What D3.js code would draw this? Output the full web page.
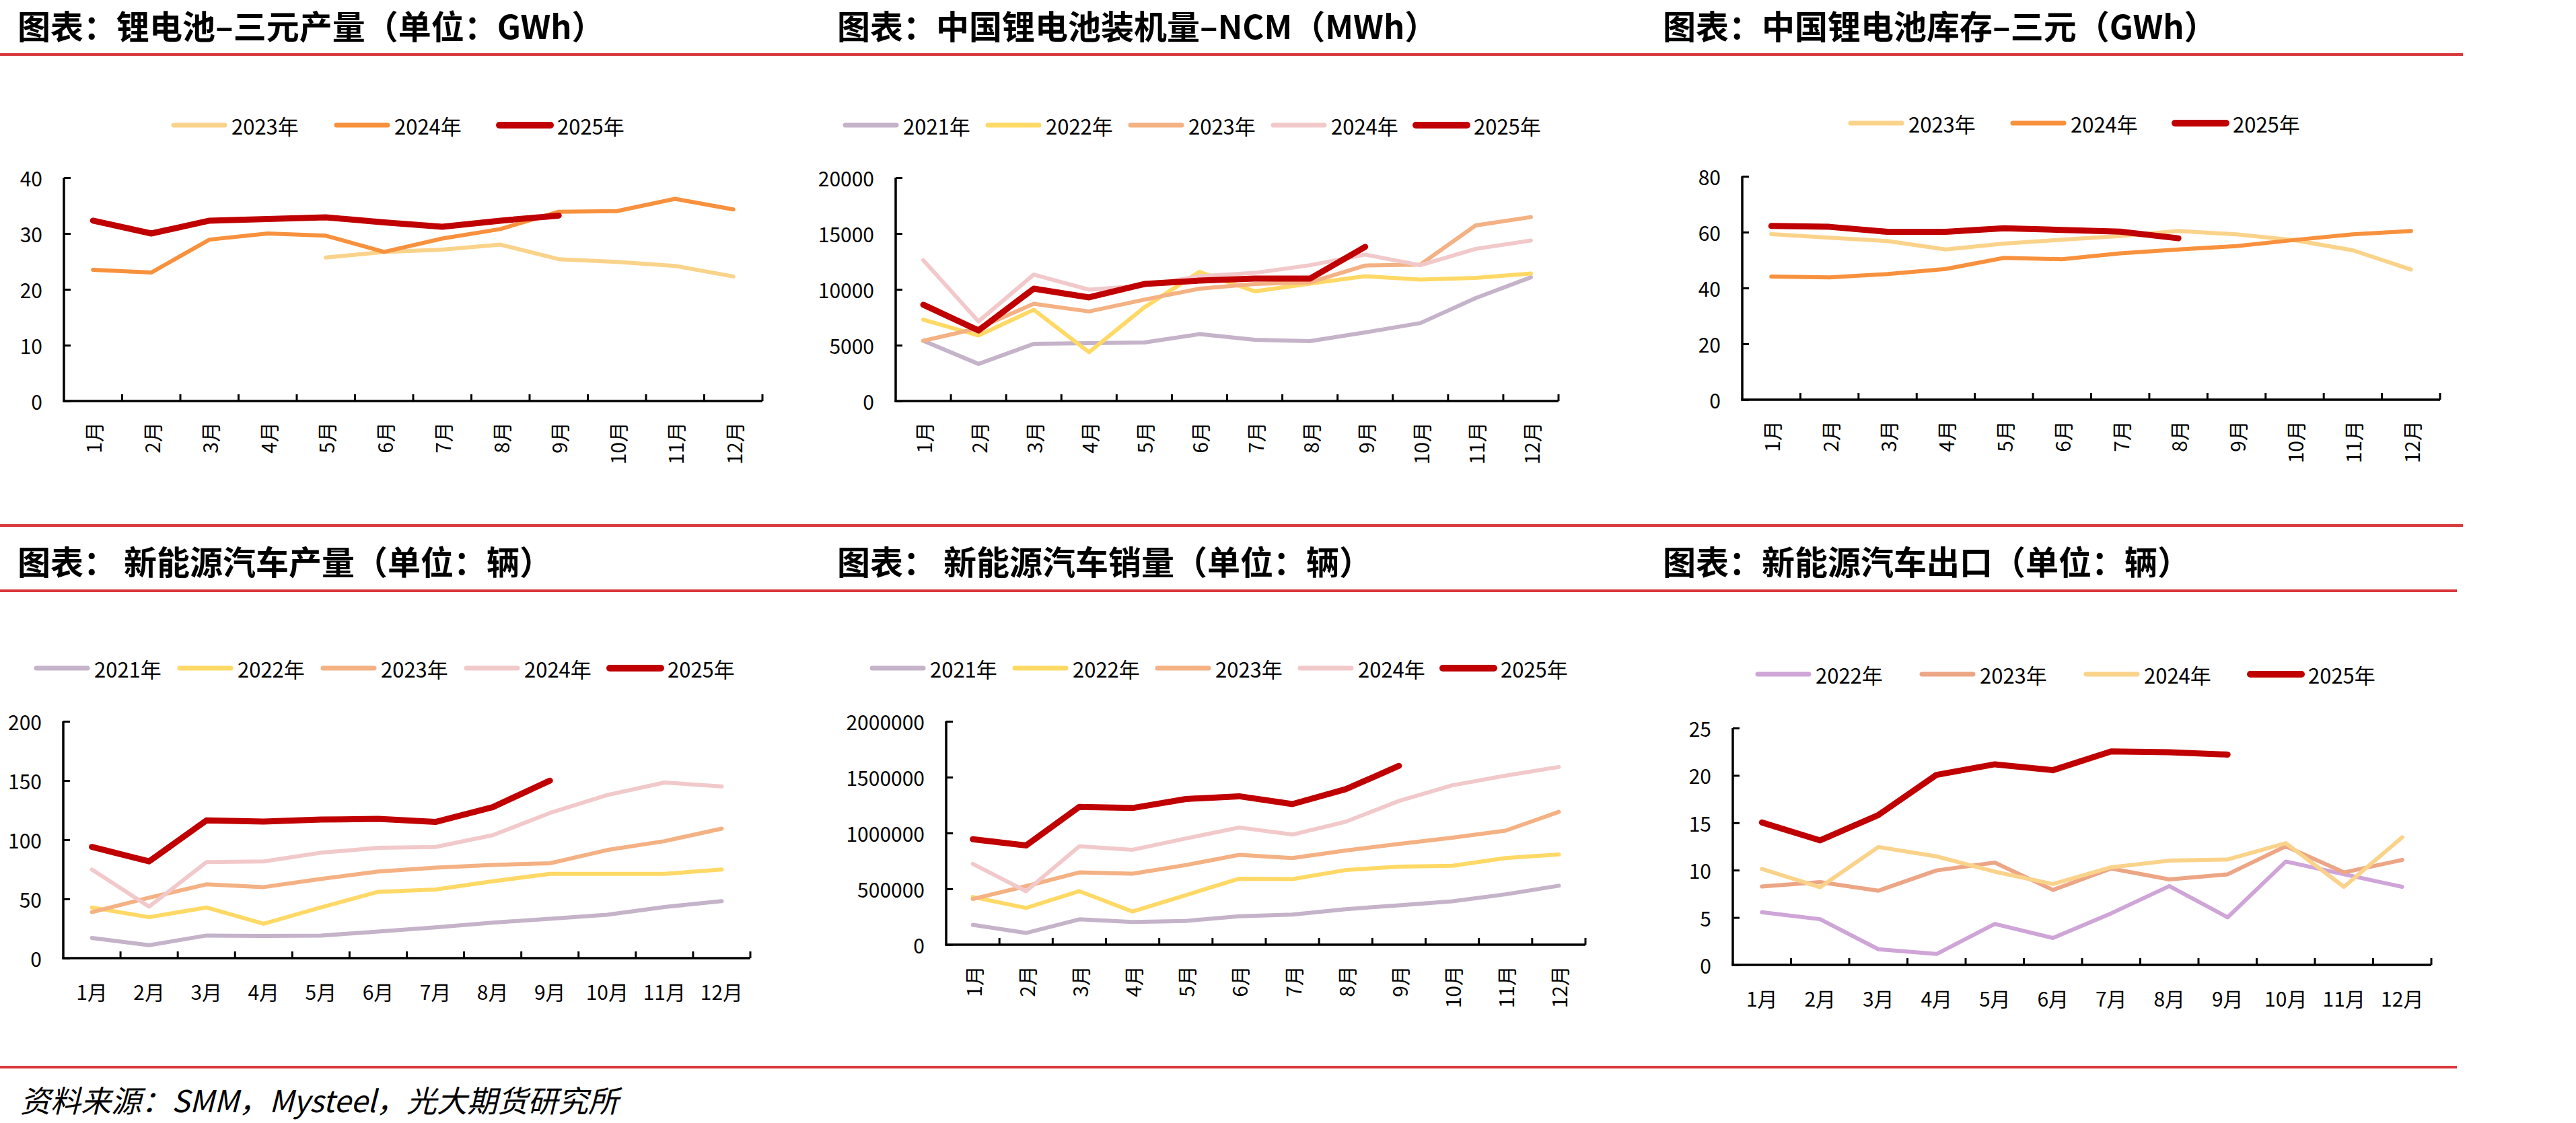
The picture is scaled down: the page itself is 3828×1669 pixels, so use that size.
<!DOCTYPE html>
<html>
<head>
<meta charset="utf-8">
<script src="https://cdn.jsdelivr.net/npm/d3@7"></script>
<style>
  html, body { margin: 0; padding: 0; background: #fff; }
  svg { display: block; font-family: "Noto Sans CJK SC", "Noto Sans", sans-serif; }
</style>
</head>
<body>
<div id="chart"></div>
<script>
// ---- data ----
const months = ['1月', '2月', '3月', '4月', '5月', '6月', '7月', '8月', '9月', '10月', '11月', '12月'];

// 锂电池-三元产量 (GWh)
const ternaryProdYears = ['2023年', '2024年', '2025年'];
const ternaryProd2023 = [null, null, null, null, 25.7, 26.7, 27.1, 28.0, 25.4, 24.9, 24.2, 22.3];
const ternaryProd2024 = [23.5, 23.0, 28.9, 30.0, 29.6, 26.7, 29.1, 30.8, 33.9, 34.0, 36.2, 34.3];
const ternaryProd2025 = [32.3, 30.0, 32.3, 32.6, 32.9, 32.0, 31.2, 32.3, 33.2];
const ternaryProdTicks = [0, 10, 20, 30, 40];

// 中国锂电池装机量-NCM (MWh)
const ncmYears = ['2021年', '2022年', '2023年', '2024年', '2025年'];
const ncm2021 = [5400, 3320, 5120, 5180, 5240, 5990, 5480, 5360, 6140, 6980, 9220, 11080];
const ncm2022 = [7280, 5870, 8170, 4370, 8380, 11560, 9820, 10510, 11170, 10870, 11020, 11410];
const ncm2023 = [5390, 6530, 8710, 8020, 9070, 10060, 10480, 10630, 12130, 12220, 15720, 16470];
const ncm2024 = [12610, 7130, 11320, 9970, 10330, 11170, 11470, 12160, 13110, 12160, 13620, 14370];
const ncm2025 = [8620, 6320, 10060, 9280, 10480, 10780, 10960, 10960, 13800];
const ncmTicks = [0, 5000, 10000, 15000, 20000];

// 中国锂电池库存-三元 (GWh)
const stockYears = ['2023年', '2024年', '2025年'];
const stock2023 = [59.3, 58.0, 56.8, 53.8, 55.9, 57.3, 58.6, 60.4, 59.2, 57.1, 53.5, 46.6];
const stock2024 = [44.1, 43.8, 45.0, 46.8, 50.8, 50.3, 52.4, 53.8, 55.0, 57.2, 59.2, 60.4];
const stock2025 = [62.2, 61.9, 60.1, 60.1, 61.4, 60.8, 60.2, 57.8];
const stockTicks = [0, 20, 40, 60, 80];

// 新能源汽车产量
const nevProdYears = ['2021年', '2022年', '2023年', '2024年', '2025年'];
const nevProd2021 = [17.1, 10.9, 19.1, 18.8, 19.1, 22.4, 26.0, 30.0, 33.3, 36.6, 43.2, 48.1];
const nevProd2022 = [42.8, 34.6, 42.8, 29.0, 42.8, 56.0, 58.0, 64.9, 71.2, 71.2, 71.2, 74.8];
const nevProd2023 = [38.9, 51.1, 62.3, 60.0, 66.9, 73.1, 76.4, 78.7, 80.1, 91.3, 98.8, 109.4];
const nevProd2024 = [74.8, 43.5, 81.1, 81.7, 89.0, 93.2, 93.9, 103.8, 122.6, 137.7, 148.3, 145.0];
const nevProd2025 = [93.9, 81.7, 116.3, 115.3, 117.0, 117.6, 115.0, 127.5, 149.9];
const nevProdTicks = [0, 50, 100, 150, 200];

// 新能源汽车销量
const nevSalesYears = ['2021年', '2022年', '2023年', '2024年', '2025年'];
const nevSales2021 = [178000, 105000, 227000, 203000, 213000, 255000, 269000, 318000, 353000, 388000, 451000, 528000];
const nevSales2022 = [427000, 329000, 479000, 297000, 444000, 591000, 587000, 668000, 699000, 706000, 776000, 808000];
const nevSales2023 = [409000, 524000, 647000, 636000, 713000, 804000, 776000, 843000, 902000, 958000, 1021000, 1189000];
const nevSales2024 = [724000, 479000, 881000, 850000, 951000, 1049000, 986000, 1101000, 1287000, 1427000, 1514000, 1591000];
const nevSales2025 = [944000, 888000, 1234000, 1224000, 1304000, 1329000, 1259000, 1392000, 1601000];
const nevSalesTicks = [0, 500000, 1000000, 1500000, 2000000];

// 新能源汽车出口
const nevExportYears = ['2022年', '2023年', '2024年', '2025年'];
const nevExport2022 = [5.56, 4.82, 1.65, 1.15, 4.32, 2.84, 5.44, 8.32, 5.02, 10.91, 9.56, 8.24];
const nevExport2023 = [8.28, 8.73, 7.83, 9.97, 10.79, 7.91, 10.17, 9.02, 9.56, 12.52, 9.76, 11.08];
const nevExport2024 = [10.13, 8.20, 12.44, 11.45, 9.84, 8.53, 10.30, 11.0, 11.12, 12.85, 8.24, 13.47];
const nevExport2025 = [15.03, 13.14, 15.82, 20.06, 21.17, 20.55, 22.53, 22.45, 22.2];
const nevExportTicks = [0, 5, 10, 15, 20, 25];

// ---- colours ----
const cLavender = '#c5b3c9';
const cYellow = '#ffd966';
const cSalmon = '#f4b183';
const cPink = '#f2c9ca';
const cRed = '#c00000';
const cLightOrange = '#fad38b';
const cOrange = '#f8913d';
const cLilac = '#cfa5d8';
const cPeach = '#eca686';
const cRule = '#d9383c';

const W = 3828, H = 1669;
const svg = d3.select('#chart').append('svg')
    .attr('width', W)
    .attr('height', H);

// red separator rules
const rules = [
    { y: 81, x2: 3660 },
    { y: 781, x2: 3660 },
    { y: 878, x2: 3651 },
    { y: 1586, x2: 3651 }
];
svg.selectAll('.rule')
    .data(rules)
    .enter()
    .append('line')
    .attr('x1', 0)
    .attr('x2', d => d.x2)
    .attr('y1', d => d.y)
    .attr('y2', d => d.y)
    .attr('stroke', cRule)
    .attr('stroke-width', 4);

function drawPanel(cfg) {
    const g = svg.append('g');

    // title
    g.append('text')
        .attr('x', cfg.titleX)
        .attr('y', cfg.titleY)
        .attr('dominant-baseline', 'central')
        .attr('font-size', 49)
        .attr('font-weight', 700)
        .attr('fill', '#000')
        .text(cfg.title);

    const x = d3.scaleBand()
        .domain(months)
        .range([cfg.left, cfg.right]);
    const y = d3.scaleLinear()
        .domain([0, d3.max(cfg.ticks)])
        .range([cfg.bottom, cfg.top]);

    // y axis (ticks point inward)
    const yAxis = g.append('g')
        .attr('transform', `translate(${cfg.left},0)`)
        .call(d3.axisRight(y).tickValues(cfg.ticks).tickSize(10).tickFormat(''));
    yAxis.select('.domain').remove();
    yAxis.selectAll('.tick line').attr('stroke', '#000').attr('stroke-width', 3);

    g.selectAll('.ylab')
        .data(cfg.ticks)
        .enter()
        .append('text')
        .attr('x', cfg.left - 32)
        .attr('y', d => y(d))
        .attr('text-anchor', 'end')
        .attr('dominant-baseline', 'central')
        .attr('font-size', 30)
        .attr('fill', '#000')
        .text(d => d);

    // x axis ticks at band edges, pointing up
    const edges = months.map(m => x(m) + x.bandwidth());
    g.selectAll('.xtick')
        .data(edges)
        .enter()
        .append('line')
        .attr('x1', d => d)
        .attr('x2', d => d)
        .attr('y1', cfg.bottom)
        .attr('y2', cfg.bottom - 10)
        .attr('stroke', '#000')
        .attr('stroke-width', 3);

    // axis lines
    g.append('line')
        .attr('x1', cfg.left).attr('x2', cfg.left)
        .attr('y1', cfg.top).attr('y2', cfg.bottom + 1.5)
        .attr('stroke', '#000').attr('stroke-width', 3.5);
    g.append('line')
        .attr('x1', cfg.left - 1.5).attr('x2', cfg.right)
        .attr('y1', cfg.bottom).attr('y2', cfg.bottom)
        .attr('stroke', '#000').attr('stroke-width', 3.5);

    // month labels
    const cx = m => x(m) + x.bandwidth() / 2;
    if (cfg.rotate) {
        g.selectAll('.xlab')
            .data(months)
            .enter()
            .append('text')
            .attr('transform', m => `translate(${cx(m)},${cfg.bottom + 31}) rotate(-90)`)
            .attr('text-anchor', 'end')
            .attr('dominant-baseline', 'central')
            .attr('font-size', 30)
            .attr('fill', '#000')
            .text(m => m);
    } else {
        g.selectAll('.xlab')
            .data(months)
            .enter()
            .append('text')
            .attr('x', m => cx(m))
            .attr('y', cfg.bottom + 49)
            .attr('text-anchor', 'middle')
            .attr('dominant-baseline', 'central')
            .attr('font-size', 30)
            .attr('fill', '#000')
            .text(m => m);
    }

    // lines
    const line = d3.line()
        .defined(d => d.v != null)
        .x(d => cx(d.m))
        .y(d => y(d.v));

    cfg.series.forEach(s => {
        const pts = s.values.map((v, i) => ({ m: months[i], v: v }));
        g.append('path')
            .attr('d', line(pts))
            .attr('fill', 'none')
            .attr('stroke', s.color)
            .attr('stroke-width', s.width)
            .attr('stroke-linejoin', 'round')
            .attr('stroke-linecap', 'round');
    });

    // legend
    const leg = g.selectAll('.legend')
        .data(cfg.series)
        .enter()
        .append('g')
        .attr('transform', (d, i) => `translate(${cfg.legendX + i * cfg.legendStep},${cfg.legendY})`);
    leg.append('line')
        .attr('x1', 4).attr('x2', 80)
        .attr('y1', 0).attr('y2', 0)
        .attr('stroke', d => d.color)
        .attr('stroke-width', d => d.width + 1)
        .attr('stroke-linecap', 'round');
    leg.append('text')
        .attr('x', 90)
        .attr('y', 0)
        .attr('dominant-baseline', 'central')
        .attr('font-size', 31)
        .attr('fill', '#000')
        .text(d => d.name);
}

const thin = 6, thick = 9;

drawPanel({
    title: '图表：锂电池–三元产量（单位：GWh）',
    titleX: 26, titleY: 36,
    left: 95, right: 1133, top: 264, bottom: 596,
    ticks: ternaryProdTicks, rotate: true,
    legendX: 254, legendStep: 242, legendY: 186,
    series: [
        { name: ternaryProdYears[0], values: ternaryProd2023, color: cLightOrange, width: thin },
        { name: ternaryProdYears[1], values: ternaryProd2024, color: cOrange, width: thin },
        { name: ternaryProdYears[2], values: ternaryProd2025, color: cRed, width: thick }
    ]
});

drawPanel({
    title: '图表：中国锂电池装机量–NCM（MWh）',
    titleX: 1244, titleY: 36,
    left: 1331, right: 2316, top: 264, bottom: 596,
    ticks: ncmTicks, rotate: true,
    legendX: 1252, legendStep: 212, legendY: 186,
    series: [
        { name: ncmYears[0], values: ncm2021, color: cLavender, width: thin },
        { name: ncmYears[1], values: ncm2022, color: cYellow, width: thin },
        { name: ncmYears[2], values: ncm2023, color: cSalmon, width: thin },
        { name: ncmYears[3], values: ncm2024, color: cPink, width: thin },
        { name: ncmYears[4], values: ncm2025, color: cRed, width: thick }
    ]
});

drawPanel({
    title: '图表：中国锂电池库存–三元（GWh）',
    titleX: 2471, titleY: 36,
    left: 2589, right: 3626, top: 262, bottom: 594,
    ticks: stockTicks, rotate: true,
    legendX: 2746, legendStep: 241, legendY: 183,
    series: [
        { name: stockYears[0], values: stock2023, color: cLightOrange, width: thin },
        { name: stockYears[1], values: stock2024, color: cOrange, width: thin },
        { name: stockYears[2], values: stock2025, color: cRed, width: thick }
    ]
});

drawPanel({
    title: '图表： 新能源汽车产量（单位：辆）',
    titleX: 26, titleY: 832,
    left: 94, right: 1115, top: 1072, bottom: 1424,
    ticks: nevProdTicks, rotate: false,
    legendX: 50, legendStep: 213, legendY: 993,
    series: [
        { name: nevProdYears[0], values: nevProd2021, color: cLavender, width: thin },
        { name: nevProdYears[1], values: nevProd2022, color: cYellow, width: thin },
        { name: nevProdYears[2], values: nevProd2023, color: cSalmon, width: thin },
        { name: nevProdYears[3], values: nevProd2024, color: cPink, width: thin },
        { name: nevProdYears[4], values: nevProd2025, color: cRed, width: thick }
    ]
});

drawPanel({
    title: '图表： 新能源汽车销量（单位：辆）',
    titleX: 1244, titleY: 832,
    left: 1406, right: 2356, top: 1072, bottom: 1404,
    ticks: nevSalesTicks, rotate: true,
    legendX: 1292, legendStep: 212, legendY: 993,
    series: [
        { name: nevSalesYears[0], values: nevSales2021, color: cLavender, width: thin },
        { name: nevSalesYears[1], values: nevSales2022, color: cYellow, width: thin },
        { name: nevSalesYears[2], values: nevSales2023, color: cSalmon, width: thin },
        { name: nevSalesYears[3], values: nevSales2024, color: cPink, width: thin },
        { name: nevSalesYears[4], values: nevSales2025, color: cRed, width: thick }
    ]
});

drawPanel({
    title: '图表：新能源汽车出口（单位：辆）',
    titleX: 2471, titleY: 832,
    left: 2575, right: 3613, top: 1082, bottom: 1434,
    ticks: nevExportTicks, rotate: false,
    legendX: 2608, legendStep: 244, legendY: 1002,
    series: [
        { name: nevExportYears[0], values: nevExport2022, color: cLilac, width: thin },
        { name: nevExportYears[1], values: nevExport2023, color: cPeach, width: thin },
        { name: nevExportYears[2], values: nevExport2024, color: cLightOrange, width: thin },
        { name: nevExportYears[3], values: nevExport2025, color: cRed, width: thick }
    ]
});

// source note
svg.append('text')
    .attr('x', 30)
    .attr('y', 1633)
    .attr('dominant-baseline', 'central')
    .attr('font-size', 45)
    .attr('font-style', 'italic')
    .attr('fill', '#000')
    .text('资料来源：SMM，Mysteel，光大期货研究所');
</script>
</body>
</html>
